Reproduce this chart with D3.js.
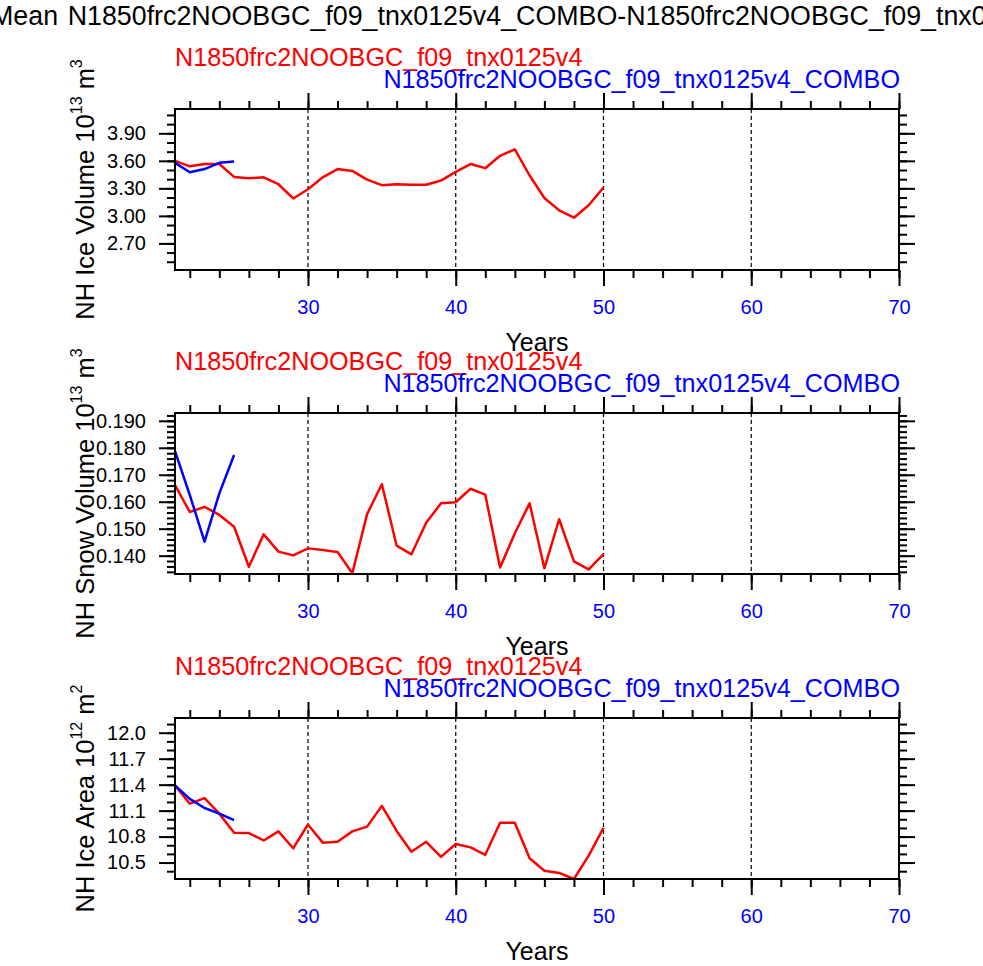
<!DOCTYPE html>
<html>
<head>
<meta charset="utf-8">
<script src="https://cdn.jsdelivr.net/npm/d3@7"></script>
<style>
  body { margin: 0; background: #fff; }
  svg { display: block; font-family: "Liberation Sans", Arial, Helvetica, sans-serif; }
</style>
</head>
<body>
<script>
// years on the x axis
var caseYears = [21, 22, 23, 24, 25, 26, 27, 28, 29, 30, 31, 32, 33, 34, 35,
                 36, 37, 38, 39, 40, 41, 42, 43, 44, 45, 46, 47, 48, 49, 50];
var comboYears = [21, 22, 23, 24, 25];
var xMajor = [30, 40, 50, 60, 70];
var xGrid = [30, 40, 50, 60];

var caseName = 'N1850frc2NOOBGC_f09_tnx0125v4';
var comboName = 'N1850frc2NOOBGC_f09_tnx0125v4_COMBO';
var titleWord = 'Mean';
var titleRest = 'N1850frc2NOOBGC_f09_tnx0125v4_COMBO-N1850frc2NOOBGC_f09_tnx0125v4';

// NH ice volume (10^13 m^3)
var iceVolCase = [3.60, 3.54, 3.565, 3.565, 3.425, 3.41, 3.42, 3.345, 3.19, 3.29,
                  3.42, 3.51, 3.49, 3.395, 3.335, 3.345, 3.34, 3.34, 3.385, 3.48,
                  3.565, 3.52, 3.655, 3.725, 3.44, 3.195, 3.06, 2.98, 3.115, 3.31];
var iceVolCombo = [3.578, 3.476, 3.51, 3.578, 3.593];
var iceVolTicks = [2.70, 3.00, 3.30, 3.60, 3.90];

// NH snow volume (10^13 m^3)
var snowVolCase = [0.1662, 0.1562, 0.1581, 0.1551, 0.1507, 0.1359, 0.1479, 0.1415, 0.1401, 0.1427,
                   0.1421, 0.1414, 0.1335, 0.1554, 0.1665, 0.1437, 0.1405, 0.1522, 0.1594, 0.1598,
                   0.1648, 0.1626, 0.1356, 0.1483, 0.1594, 0.1353, 0.1535, 0.1379, 0.1349, 0.1406];
var snowVolCombo = [0.1788, 0.1625, 0.1452, 0.1631, 0.1773];
var snowVolTicks = [0.140, 0.150, 0.160, 0.170, 0.180, 0.190];

// NH ice area (10^12 m^2)
var iceAreaCase = [11.39, 11.18, 11.245, 11.065, 10.845, 10.84, 10.755, 10.86, 10.665, 10.94,
                   10.73, 10.74, 10.86, 10.915, 11.155, 10.865, 10.625, 10.74, 10.565, 10.715,
                   10.675, 10.59, 10.96, 10.96, 10.55, 10.405, 10.38, 10.31, 10.58, 10.90];
var iceAreaCombo = [11.39, 11.235, 11.13, 11.065, 10.99];
var iceAreaTicks = [10.5, 10.8, 11.1, 11.4, 11.7, 12.0];

(function () {
  "use strict";
  var W = 983, H = 966;
  var svg = d3.select('body').append('svg').attr('width', W).attr('height', H);
  svg.append('rect').attr('width', W).attr('height', H).attr('fill', '#fff');

  var left = 175, right = 899, plotH = 161;
  var x = d3.scaleLinear().domain([21, 70]).range([left, right]);

  // main title is wider than the page, it gets clipped on both sides
  var title = svg.append('text').attr('y', 25).style('font-size', '26.8px');
  title.append('tspan').attr('x', -9).text(titleWord);
  title.append('tspan').attr('x', 67.7).text(titleRest);

  var panels = [
    {top: 109, caseV: iceVolCase, comboV: iceVolCombo, domain: [2.41, 4.165], ticks: iceVolTicks,
     minor: 0.1, fmt: d3.format('.2f'), label: ['NH Ice Volume 10', '13', ' m', '3']},
    {top: 413, caseV: snowVolCase, comboV: snowVolCombo, domain: [0.1332, 0.1929], ticks: snowVolTicks,
     minor: 0.002, fmt: d3.format('.3f'), label: ['NH Snow Volume 10', '13', ' m', '3']},
    {top: 718, caseV: iceAreaCase, comboV: iceAreaCombo, domain: [10.31, 12.17], ticks: iceAreaTicks,
     minor: 0.1, fmt: d3.format('.1f'), label: ['NH Ice Area 10', '12', ' m', '2']}
  ];

  panels.forEach(function (p) {
    var top = p.top, bottom = top + plotH;
    var y = d3.scaleLinear().domain(p.domain).range([bottom, top]);
    var g = svg.append('g');

    // minor tick positions inside the y range
    var yMinor = [];
    var start = Math.ceil(p.domain[0] / p.minor - 1e-6);
    for (var k = start; k * p.minor <= p.domain[1] + 1e-9; k++) { yMinor.push(k * p.minor); }
    var xMinor = [];
    for (var yr = 22; yr <= 70; yr += 2) { xMinor.push(yr); }

    // dashed year grid
    g.selectAll('.grid').data(xGrid).enter().append('line')
        .attr('x1', function (d) { return x(d); }).attr('x2', function (d) { return x(d); })
        .attr('y1', top).attr('y2', bottom)
        .attr('stroke', '#000').attr('stroke-width', 1.2).attr('stroke-dasharray', '4,3');

    function axisStyle(sel) {
      sel.select('.domain').remove();
      sel.selectAll('line').attr('stroke', '#000').attr('stroke-width', 2);
    }

    // x axes: bottom with labels, top without
    g.append('g').attr('transform', 'translate(0,' + bottom + ')')
        .call(d3.axisBottom(x).tickValues(xMinor).tickSize(8).tickFormat('')).call(axisStyle);
    g.append('g').attr('transform', 'translate(0,' + bottom + ')')
        .call(d3.axisBottom(x).tickValues(xMajor).tickSize(16).tickPadding(14).tickFormat(d3.format('d')))
        .call(axisStyle)
        .selectAll('text').attr('fill', '#0000ff').style('font-size', '20px');
    g.append('g').attr('transform', 'translate(0,' + top + ')')
        .call(d3.axisTop(x).tickValues(xMinor).tickSize(8).tickFormat('')).call(axisStyle);
    g.append('g').attr('transform', 'translate(0,' + top + ')')
        .call(d3.axisTop(x).tickValues(xMajor).tickSize(16).tickFormat('')).call(axisStyle);

    // y axes: left with labels, right without
    g.append('g').attr('transform', 'translate(' + left + ',0)')
        .call(d3.axisLeft(y).tickValues(yMinor).tickSize(8).tickFormat('')).call(axisStyle);
    g.append('g').attr('transform', 'translate(' + left + ',0)')
        .call(d3.axisLeft(y).tickValues(p.ticks).tickSize(16).tickPadding(13).tickFormat(p.fmt))
        .call(axisStyle)
        .selectAll('text').attr('fill', '#000').style('font-size', '20px');
    g.append('g').attr('transform', 'translate(' + right + ',0)')
        .call(d3.axisRight(y).tickValues(yMinor).tickSize(8).tickFormat('')).call(axisStyle);
    g.append('g').attr('transform', 'translate(' + right + ',0)')
        .call(d3.axisRight(y).tickValues(p.ticks).tickSize(16).tickFormat('')).call(axisStyle);

    // series
    var line = d3.line()
        .x(function (d) { return x(d[0]); })
        .y(function (d) { return y(d[1]); });
    g.append('path').datum(d3.zip(caseYears, p.caseV))
        .attr('d', line).attr('fill', 'none').attr('stroke', '#ff0000').attr('stroke-width', 2.5)
        .attr('stroke-linejoin', 'round');
    g.append('path').datum(d3.zip(comboYears, p.comboV))
        .attr('d', line).attr('fill', 'none').attr('stroke', '#0000ff').attr('stroke-width', 2.5)
        .attr('stroke-linejoin', 'round');

    // frame
    g.append('rect').attr('x', left).attr('y', top).attr('width', right - left).attr('height', plotH)
        .attr('fill', 'none').attr('stroke', '#000').attr('stroke-width', 2);

    // case names above the frame
    g.append('text').attr('x', left).attr('y', top - 43)
        .attr('fill', '#ff0000').style('font-size', '25.2px').text(caseName);
    g.append('text').attr('x', right + 1).attr('y', top - 21).attr('text-anchor', 'end')
        .attr('fill', '#0000ff').style('font-size', '25.2px').text(comboName);

    // axis titles
    g.append('text').attr('x', (left + right) / 2).attr('y', bottom + 81)
        .attr('text-anchor', 'middle').style('font-size', '25px').text('Years');
    var yl = g.append('text')
        .attr('transform', 'translate(94,' + (top + plotH / 2) + ') rotate(-90)')
        .attr('text-anchor', 'middle').style('font-size', '25.5px');
    yl.append('tspan').text(p.label[0]);
    yl.append('tspan').attr('dy', -12).style('font-size', '16px').text(p.label[1]);
    yl.append('tspan').attr('dy', 12).text(p.label[2]);
    yl.append('tspan').attr('dy', -12).style('font-size', '16px').text(p.label[3]);
  });
}());
</script>
</body>
</html>
